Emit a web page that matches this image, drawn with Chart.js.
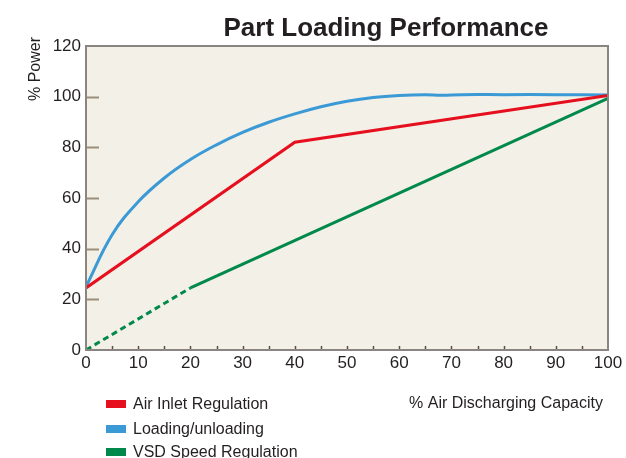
<!DOCTYPE html>
<html>
<head>
<meta charset="utf-8">
<script src="https://cdn.jsdelivr.net/npm/chart.js@4"></script>
<style>
  html, body { margin: 0; padding: 0; background: #ffffff; }
  #wrap { width: 626px; height: 458px; position: relative; }
</style>
</head>
<body>
<div id="wrap"><canvas id="c" width="626" height="458"></canvas></div>
<script>
// ---- Data ----
const chartTitle = "Part Loading Performance";
const xAxisTitle = "% Air Discharging Capacity";
const yAxisTitle = "% Power";
const legendLabels = ["Air Inlet Regulation", "Loading/unloading", "VSD Speed Regulation"];

const yTickValues = [0, 20, 40, 60, 80, 100, 120];
const xTickValues = [0, 10, 20, 30, 40, 50, 60, 70, 80, 90, 100];

const loadingX = [0, 5, 10, 15, 20, 25, 30, 35, 40, 45, 50, 55, 60, 65, 68, 72, 80, 90, 100];
const loadingY = [25, 45.5, 58.5, 67.9, 75.2, 81.0, 85.9, 89.9, 93.2, 96.0, 98.2, 99.7, 100.5, 100.8, 100.6, 100.8, 100.8, 100.8, 100.7];

const inletX = [0, 40, 100];
const inletY = [24.5, 82, 100.5];

const vsdX = [20, 100];
const vsdY = [24.5, 99.3];

const vsdDashedX = [0, 20];
const vsdDashedY = [0, 24.5];

// ---- Colours ----
const RED = "#e60f1e";
const BLUE = "#3b9ad6";
const GREEN = "#00894a";
const TEXT = "#231f20";

function pts(xs, ys) { return xs.map((x, i) => ({ x: x, y: ys[i] })); }

const FONT = "'Liberation Sans', Arial, Helvetica, sans-serif";

const decor = {
  id: 'decor',
  beforeDatasetsDraw(chart) {
    const { ctx, chartArea: a, scales } = chart;
    ctx.save();
    ctx.fillStyle = "#f3f0e8";
    ctx.fillRect(a.left, a.top, a.right - a.left, a.bottom - a.top);
    // inward y tick marks
    ctx.strokeStyle = "#9b8f7c";
    ctx.lineWidth = 2;
    [20, 40, 60, 80, 100].forEach(v => {
      const y = Math.round(scales.y.getPixelForValue(v)) + 0.5;
      ctx.beginPath();
      ctx.moveTo(a.left, y);
      ctx.lineTo(a.left + 13, y);
      ctx.stroke();
    });
    // small x tick marks every 5
    ctx.strokeStyle = "#5b4f40";
    ctx.lineWidth = 1.5;
    for (let v = 5; v < 100; v += 5) {
      const x = Math.round(scales.x.getPixelForValue(v)) + 0.5;
      ctx.beginPath();
      ctx.moveTo(x, a.bottom);
      ctx.lineTo(x, a.bottom - 4);
      ctx.stroke();
    }
    ctx.restore();
  },
  afterDatasetsDraw(chart) {
    const { ctx, chartArea: a } = chart;
    ctx.save();
    ctx.strokeStyle = "#8a8581";
    ctx.lineWidth = 2;
    ctx.strokeRect(a.left, a.top, a.right - a.left, a.bottom - a.top);
    ctx.restore();
  },
  afterDraw(chart) {
    const { ctx } = chart;
    ctx.save();
    ctx.fillStyle = TEXT;
    // title
    ctx.font = "bold 26px " + FONT;
    ctx.textAlign = "center";
    ctx.textBaseline = "alphabetic";
    ctx.fillText(chartTitle, 386, 36);
    // x axis title
    ctx.font = "16px " + FONT;
    ctx.textAlign = "center";
    ctx.textBaseline = "middle";
    ctx.fillText(xAxisTitle, 506, 404);
    // y axis title (rotated)
    ctx.save();
    ctx.translate(36, 69);
    ctx.rotate(-Math.PI / 2);
    ctx.font = "16px " + FONT;
    ctx.textAlign = "center";
    ctx.textBaseline = "middle";
    ctx.fillText(yAxisTitle, 0, 0);
    ctx.restore();
    // legend
    const colors = [RED, BLUE, GREEN];
    const rows = [404, 429, 452];
    ctx.font = "16px " + FONT;
    ctx.textAlign = "left";
    ctx.textBaseline = "middle";
    legendLabels.forEach((lab, i) => {
      ctx.fillStyle = colors[i];
      ctx.fillRect(106, rows[i] - 4, 20, 8);
      ctx.fillStyle = TEXT;
      ctx.fillText(lab, 133, rows[i] + 1);
    });
    ctx.restore();
  }
};

new Chart(document.getElementById('c'), {
  type: 'line',
  data: {
    datasets: [
      { label: legendLabels[0], data: pts(inletX, inletY), borderColor: RED, borderWidth: 3, pointRadius: 0, tension: 0, order: 1 },
      { label: legendLabels[1], data: pts(loadingX, loadingY), borderColor: BLUE, borderWidth: 3, pointRadius: 0, tension: 0.4, order: 2 },
      { label: legendLabels[2], data: pts(vsdX, vsdY), borderColor: GREEN, borderWidth: 3, pointRadius: 0, tension: 0, order: 0 },
      { label: legendLabels[2] + " (dashed)", data: pts(vsdDashedX, vsdDashedY), borderColor: GREEN, borderWidth: 3, borderDash: [6, 4], pointRadius: 0, tension: 0, order: 0 }
    ]
  },
  options: {
    responsive: false,
    animation: false,
    events: [],
    layout: { padding: { left: 0, right: 18, top: 46, bottom: 0 } },
    plugins: { legend: { display: false }, title: { display: false }, tooltip: { enabled: false } },
    scales: {
      x: {
        type: 'linear', min: 0, max: 100,
        border: { display: false },
        grid: { display: false, drawTicks: false },
        afterBuildTicks: s => { s.ticks = xTickValues.map(v => ({ value: v })); },
        afterFit: s => { s.height = 108; },
        ticks: { color: TEXT, font: { family: FONT, size: 17 }, padding: 3, maxRotation: 0, autoSkip: false }
      },
      y: {
        type: 'linear', min: 0, max: 120,
        border: { display: false },
        grid: { display: false, drawTicks: false },
        afterBuildTicks: s => { s.ticks = yTickValues.map(v => ({ value: v })); },
        afterFit: s => { s.width = 86; },
        ticks: { color: TEXT, font: { family: FONT, size: 17 }, padding: 5, autoSkip: false }
      }
    }
  },
  plugins: [decor]
});
</script>
</body>
</html>
